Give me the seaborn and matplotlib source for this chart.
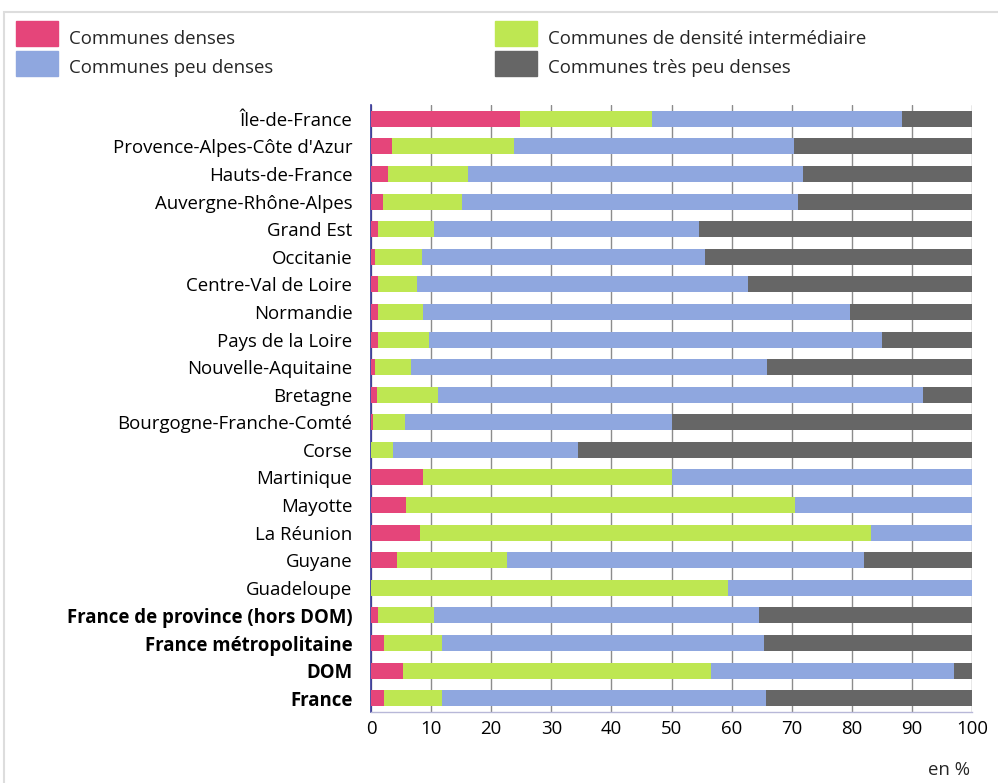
import matplotlib
matplotlib.use("Agg")
import matplotlib.pyplot as plt
import seaborn as sns
import pandas as pd
import numpy as np
from matplotlib.patches import Rectangle

regions = ["Île-de-France", "Provence-Alpes-Côte d'Azur", "Hauts-de-France",
           "Auvergne-Rhône-Alpes", "Grand Est", "Occitanie", "Centre-Val de Loire",
           "Normandie", "Pays de la Loire", "Nouvelle-Aquitaine", "Bretagne",
           "Bourgogne-Franche-Comté", "Corse", "Martinique", "Mayotte", "La Réunion",
           "Guyane", "Guadeloupe", "France de province (hors DOM)",
           "France métropolitaine", "DOM", "France"]
bold_labels = ["France de province (hors DOM)", "France métropolitaine", "DOM", "France"]

denses = [24.8, 3.5, 2.8, 2.0, 1.2, 0.7, 1.2, 1.2, 1.2, 0.7, 1.0, 0.3, 0.0,
          8.7, 5.8, 8.2, 4.3, 0.0, 1.2, 2.2, 5.3, 2.2]
intermediaires = [22.0, 20.3, 13.3, 13.1, 9.3, 7.8, 6.5, 7.5, 8.5, 6.0, 10.1, 5.4, 3.7,
                  41.4, 64.7, 75.0, 18.3, 59.4, 9.3, 9.6, 51.3, 9.6]
peu_denses = [41.6, 46.6, 55.8, 55.9, 44.1, 47.1, 55.0, 71.0, 75.3, 59.2, 80.7, 44.4, 30.7,
              49.9, 29.5, 16.8, 59.4, 40.6, 54.1, 53.6, 40.4, 53.9]
tres_peu_denses = [11.6, 29.6, 28.1, 29.0, 45.4, 44.4, 37.3, 20.3, 15.0, 34.1, 8.2, 49.9, 65.6,
                   0.0, 0.0, 0.0, 18.0, 0.0, 35.4, 34.6, 3.0, 34.3]

series_names = ["Communes denses", "Communes de densité intermédiaire",
                "Communes peu denses", "Communes très peu denses"]
colors = ["#E5457A", "#BEE752", "#8FA7DF", "#666666"]

df = pd.DataFrame({"region": regions, "s0": denses, "s1": intermediaires,
                   "s2": peu_denses, "s3": tres_peu_denses})
df["c0"] = df["s0"]
df["c1"] = df["c0"] + df["s1"]
df["c2"] = df["c1"] + df["s2"]
df["c3"] = df["c2"] + df["s3"]

sns.set_theme(style="white")
plt.rcParams["font.family"] = ["Open Sans", "DejaVu Sans"]

FS = 13.4

fig = plt.figure(figsize=(9.98, 7.83), dpi=100)
ax = fig.add_axes([371/998, 1-712/783, (972-371)/998, (712-105)/783])

for col, color in zip(["c3", "c2", "c1", "c0"], colors[::-1]):
    sns.barplot(data=df, x=col, y="region", order=regions, color=color,
                width=0.58, orient="h", ax=ax, saturation=1, zorder=3,
                edgecolor="none", linewidth=0)

ax.set_xlim(0, 100)
ax.set_ylim(len(regions) - 0.5, -0.5)
ax.set_xticks(np.arange(0, 101, 10))
ax.set_xlabel("")
ax.set_ylabel("")
ax.grid(axis="x", color="#8c8c8c", linewidth=1, zorder=0)
ax.grid(axis="y", visible=False)
ax.set_axisbelow(True)
for s in ["top", "right"]:
    ax.spines[s].set_visible(False)
ax.spines["left"].set_color("#333399")
ax.spines["left"].set_linewidth(1.2)
ax.spines["bottom"].set_color("#b8b8d8")
ax.spines["bottom"].set_linewidth(1)
ax.tick_params(axis="both", length=0, labelsize=FS, colors="#000000")
ax.tick_params(axis="y", pad=13.5)
ax.tick_params(axis="x", pad=5.5)
for lbl in ax.get_yticklabels():
    if lbl.get_text() in bold_labels:
        lbl.set_fontweight("bold")

# legend (custom positioned in figure coords)
leg_items = [(16, 33.5, 0), (16, 63, 2), (495, 33.5, 1), (495, 63, 3)]
for x0, yc, idx in leg_items:
    fig.patches.append(Rectangle((x0/998, 1-(yc+12.5)/783), 42/998, 25/783,
                                 transform=fig.transFigure, color=colors[idx]))
    fig.text((x0+53)/998, 1-(yc+5)/783, series_names[idx], fontsize=FS,
             va="center", ha="left")

# outer frame
fig.patches.append(Rectangle((4/998, -0.05), 1.2, 1-12/783+0.05,
                             transform=fig.transFigure, fill=False,
                             edgecolor="#dddddd", linewidth=1.5))

fig.text(949/998, 1-770/783, "en %", fontsize=FS, ha="center", va="center")

fig.savefig("out.png", dpi=100)
